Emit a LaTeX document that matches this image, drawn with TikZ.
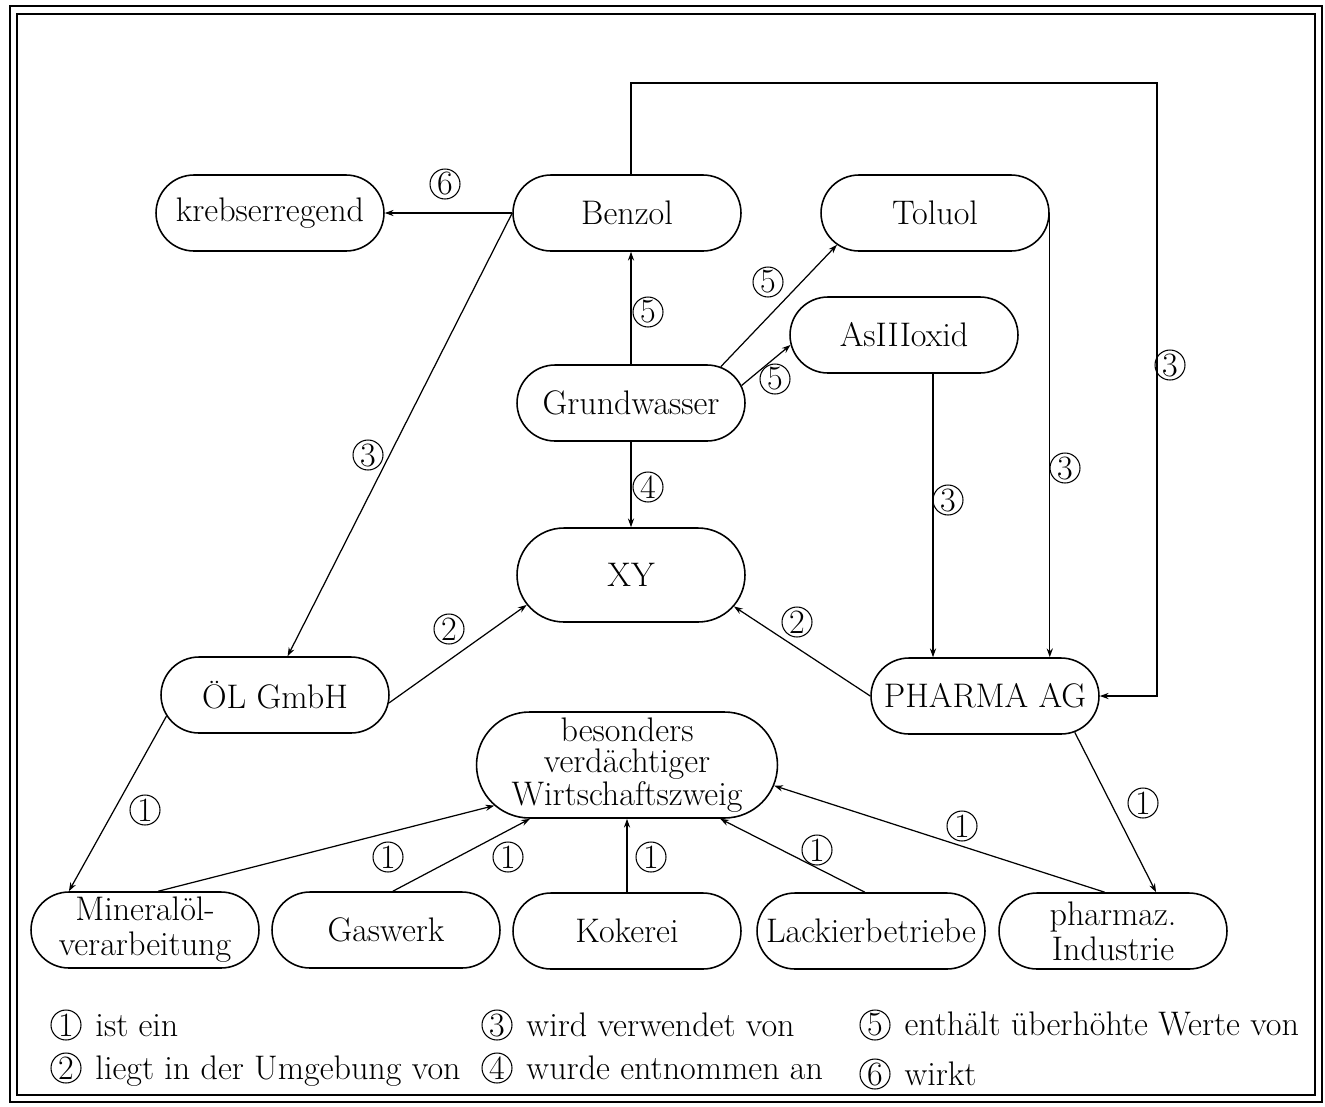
\documentclass[tikz,border=0pt]{standalone}
\usepackage{tikz}
\usetikzlibrary{shapes.misc, arrows.meta}

\begin{document}
\begin{tikzpicture}[x=0.02cm, y=-0.02cm, font=\fontsize{19.4}{20}\selectfont,
                >={Stealth[length=5pt, width=3.5pt]}, line width=0.7pt,
                box/.style={draw, rounded rectangle, line width=0.9pt, minimum width=3.36cm,
                    minimum height=1.52cm, inner xsep=-0.6cm, inner ysep=1pt, align=center},
                num/.style={draw, circle, line width=0.6pt, inner sep=0pt, minimum size=0.6cm}]
                \useasboundingbox (0,0) rectangle (1325,1106);
                \draw[line width=1.2pt] (10,6) rectangle (1322,1102);
                \draw[line width=0.8pt] (17,14) rectangle (1315,1095);

                \node[box] (kreb) at (270,213) {krebserregend};
                \node[box] (benzol) at (627,213) {Benzol};
                \node[box] (toluol) at (935,213) {Toluol};
                \node[box] (asoxid) at (904,335) {AsIIIoxid};
                \node[box] (grund) at (631,403) {Grundwasser};
                \node[box, minimum height=1.88cm] (xy) at (631,575) {XY};
                \node[box] (oel) at (275,695) {ÖL GmbH};
                \node[box] (pharma) at (985,696) {PHARMA AG};
                \node[box, minimum width=4.82cm, minimum height=2.12cm,
                    font=\fontsize{19.4}{17.5}\selectfont] (zweig) at (627,765)
                    {besonders\\verdächtiger\\Wirtschaftszweig};
                \node[box] (mineral) at (145,930) {Mineralöl-\\verarbeitung};
                \node[box] (gas) at (386,930) {Gaswerk};
                \node[box] (koks) at (627,931) {Kokerei};
                \node[box] (lack) at (871,931) {Lackierbetriebe};
                \node[box] (pharmind) at (1113,931) {pharmaz.\\Industrie};
                \coordinate (turn) at (1157,83);

                \draw[->] (benzol.west) -- (kreb.east);
                \draw[->] (benzol.west) -- (oel.72);
                \draw[->, thick] (benzol.north -| grund.north) |- (turn) |- (pharma.east);
                \draw[->, thick] (toluol.east) -- (toluol.east |- pharma.north);
                \draw[->, thick] ([xshift=0.58cm]asoxid.south) -- ([xshift=0.58cm]asoxid.south |- pharma.north);
                \draw[->, thick] (grund.north) -- (benzol.south -| grund.north);
                \draw[->] (grund.22) -- (toluol.198);
                \draw[->] (grund.9) -- (asoxid.185);
                \draw[->, thick] (grund.south) -- (xy.north);
                \draw[->] (oel.356) -- (xy.196);
                \draw[->] (pharma.west) -- (xy.343);
                \draw[->] (oel.191) -- (mineral.153);
                \draw[->] (pharma.338) -- (pharmind.42);
                \draw[->] (mineral.71) -- (zweig.197);
                \draw[->] (gas.80) -- (zweig.209);
                \draw[->, thick] (koks.north) -- (zweig.south);
                \draw[->] (lack.99) -- (zweig.330);
                \draw[->] (pharmind.102) -- (zweig.352);

                \node[num] (r6) at (445,184) {6};
                \node[num] (r3a) at (368,455) {3};
                \node[num] (r3b) at (1170,365) {3};
                \node[num] (r3c) at (1065,468) {3};
                \node[num] (r3d) at (948,500) {3};
                \node[num] (r5a) at (648,312) {5};
                \node[num] (r5b) at (768,282) {5};
                \node[num] (r5c) at (775,379) {5};
                \node[num] (r4) at (648,487) {4};
                \node[num] (r2a) at (449,629) {2};
                \node[num] (r2b) at (797,622) {2};
                \node[num] (r1a) at (145,810) {1};
                \node[num] (r1b) at (1143,803) {1};
                \node[num] (r1c) at (388,857) {1};
                \node[num] (r1d) at (508,857) {1};
                \node[num] (r1e) at (651,857) {1};
                \node[num] (r1f) at (817,850) {1};
                \node[num] (r1g) at (962,826) {1};

                \node[num] (k1) at (66,1025) {1};
                \node[anchor=base west] (t1) at ([xshift=0.15cm]k1.base east) {ist ein};
                \node[num] (k2) at (66,1068) {2};
                \node[anchor=base west] (t2) at ([xshift=0.15cm]k2.base east) {liegt in der Umgebung von};
                \node[num] (k3) at (497,1025) {3};
                \node[anchor=base west] (t3) at ([xshift=0.15cm]k3.base east) {wird verwendet von};
                \node[num] (k4) at (497,1068) {4};
                \node[anchor=base west] (t4) at ([xshift=0.15cm]k4.base east) {wurde entnommen an};
                \node[num] (k5) at (875,1025) {5};
                \node[anchor=base west] (t5) at ([xshift=0.15cm]k5.base east) {enthält überhöhte Werte von};
                \node[num] (k6) at (875,1074) {6};
                \node[anchor=base west] (t6) at ([xshift=0.15cm]k6.base east) {wirkt};
\end{tikzpicture}
\end{document}
